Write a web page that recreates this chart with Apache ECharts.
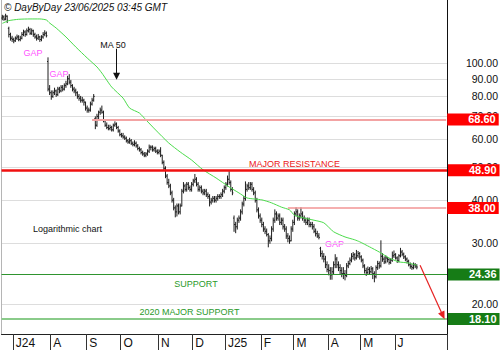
<!DOCTYPE html>
<html>
<head>
<meta charset="utf-8">
<script src="https://cdn.jsdelivr.net/npm/echarts@6/dist/echarts.min.js"></script>
<style>
  html, body { margin: 0; padding: 0; background: #fff; }
  #chart { width: 500px; height: 350px; }
</style>
</head>
<body>
<div id="chart"></div>
<script>
// Daily bars: [open, high, low, close], one row per trading day from 2024-06-20
const bars = [
  [135,137.5,133.5,136],[136,137,133,134],[134,138.5,133.5,137],[136.5,137,131,133],[126,127,119,121],
  [121,122,116.5,118],[118,119.5,115.5,117],[117,118,114.5,116],[116,119,115.5,118],[118,120.5,117,119],
  [119,120,116,117],[117,119.5,116,118],[118,122.5,117.5,121],[121,124.5,120,123],[123,124,119.5,121],
  [121,125.5,120.5,124],[124,127,123,125],[125,126,121,122],[122,125.5,121,124],[124,124.5,119.5,121],
  [121,122,118,119],[119,120.5,116.5,118],[118,121,117,119],[119,119.5,115.5,117],[117,120,116,119],
  [119,122.5,118,121],[121,124,120,122],[122,123,119,120],
  [101,103.5,83,84],[84,86,81,82],[82,83,78.5,80],[80,83,79.5,82],[82,84.5,81,83],[83,83.5,80,81],
  [81,85,80.5,84],[84,85,82,83],[83,86,82.5,85],[85,86,83,84],[84,87,83.5,86],[86,88.5,85,87],
  [87,91.5,86.5,90],[90,92.5,87,88],[88,89,85,86],[86,86.5,83,84],[84,85,82,83],[83,84,80.5,82],
  [82,82.5,79,80],[80,81,78,79],[79,80,77,78],[78,79.5,77,78],[78,78.5,75.5,77],[77,77,73,74],
  [74,75,72,73],[73,74,72,73],[73,77,72.5,76],[76,79,75.5,78],[78,81,77.5,80],
  [69,69.8,64.5,66],[66,71,65.5,70],[70,72.5,69,72],[72,74,71,73],[73,75,71.5,72],[72,72.5,67.5,68],
  [68,68.5,65.5,66],[66,67,64.5,65],[65,66,64,64.5],[64.5,66,64,65],[65,65.5,63.5,64],[64,66.5,63.5,66],
  [66,67.5,65.5,66.5],[66.5,67,64.5,65],[65,65.5,63,63.5],[63.5,64,61.5,62],[62,62.5,61,61.5],
  [61.5,62.5,60.5,61],[61,61.5,60,60.5],[60.5,61,59,59.5],[59.5,60,58.5,59],[59,60.5,58.5,59.5],
  [59.5,60,58,58.5],[58.5,59,57.5,58],[58,59.5,57.5,58.5],[58.5,59,57,57.5],[57.5,58,56,56.5],
  [56.5,57,55.5,56],[56,56.5,54.5,55],[55,55.5,54,54.5],[54.5,55,53.5,54],[54,55,53.5,54.5],
  [54.5,56,54,55.5],[55.5,57.8,55,57],[57,57.5,56,57],[57,57.5,55.5,56],[56,57,55.5,56.5],
  [56.5,57,55,55.5],[55.5,56,54.5,55],[55,56,54.5,55.5],[55.5,56.8,53.5,54],
  [54,54,51,51.5],[51.5,52,49,49.5],[49.5,50,46.5,47],[47,47.5,44.5,45],[45,46,43.5,44],
  [44,44.5,41.5,42],[42,42.5,39.5,40],[40,40.5,37.5,38],[38,38.5,35.8,37],[37,39,36,38.5],
  [38.5,39,36.5,37],[37,39,36.5,38.5],[38.5,43,38.5,42.5],[42.5,45,42,44],[44,44.5,42.5,43],
  [43,45,42.5,44.5],[44.5,45,43,43.5],[43.5,44,42.5,43],[43,45,42.5,44.5],[44.5,46,44,45.5],
  [45.5,47.5,45,46],[46,46.5,44,44.5],[44.5,45,42.5,43],[43,44,42.5,43.5],[43.5,44,42,42.5],
  [42.5,43,41.5,42],[42,43,41.5,42.5],[42.5,43,41,41.5],[41.5,42,40.5,41],[41,41.5,38.5,39.5],
  [39.5,40.5,39,40],[40,41,39.5,40.5],[40.5,41,39.5,40],[40,41,39.5,40.5],[40.5,41.5,40,41],
  [41,41.5,40.5,41],[41,42,40.5,41.5],[41.5,43,41,42.5],[42.5,44,42,43.5],[43.5,45,43,44.5],
  [44.5,47,44,46],[46,48.4,44.5,45],[45,45.5,42.5,43],[43,43.5,41.5,42],
  [35.5,36,32.5,34],[34,34.5,32.2,33.5],[33.5,35.5,33,35],[35,36,34.5,35.5],[35.5,37.5,35,37],
  [37,39.5,36.5,39],[39,41,38.5,40.5],[40.5,45.2,40,43],[43,44.5,42.5,44],[44,45,43,43.5],
  [43.5,45,43,44.5],[44.5,45,42.5,43],[43,43.5,41.5,42],[42,42.5,39.5,40],[40,40.5,37,37.5],
  [37.5,38,35.5,36],[36,36.5,34.5,35],[35,35.5,33.5,34],[34,34.5,32.5,33],[33,33.5,32,32.5],
  [32.5,33,31.5,31.8],[31.8,32,29.3,30.5],[30.5,31.5,30,31],[31,33.5,30.5,33],[33,35.5,32.5,35],
  [35,37.5,34.5,36.5],[36.5,37,35,35.5],[35.5,36.5,35,36],[36,36.5,34,34.5],[34.5,35.5,34,35],
  [35,35.5,33,33.5],[33.5,34,32.5,33],[33,33.5,31,31.5],[31.5,32,30.3,31],[31,31.5,30,30.5],
  [30.5,33.5,30.5,33],[33,35,32.5,34.5],[34.5,37,34,36.5],[36.5,38,36,37],[37,37.5,35,35.5],
  [35.5,36.5,35,36],[36,38,35.5,36.5],[36.5,37,35,35.5],[35.5,36,34.5,35],[35,35.5,34,34.5],
  [34.5,35.5,34,35],[35,35.5,33.5,34],[34,34.5,33.5,34],[34,34.5,33,33.5],[33.5,34,32.2,32.5],
  [32.5,33,31.5,32],[32,32.5,31.2,31.5],[31.5,32,30.9,31.2],
  [29,29.2,27.5,28],[28,28.5,27,27.5],[27.5,28,26.5,27],[27,27.5,25.5,26],[26,26.5,24.8,25.2],
  [25.2,26,24.3,25],[25,25.5,23.6,24.3],[24.3,25.5,23.6,24.8],[24.8,26.5,24.5,26],[26,27.8,25.5,27],
  [27,27.3,25.5,26],[26,26.5,25,25.5],[25.5,26,24.5,25],[25,25.5,24,24.5],[24.5,25.5,23.7,24.5],
  [24.5,25,23.5,24.2],[24.2,26.2,24,25.8],[25.8,26.6,25.5,26.2],[26.2,27.2,26,26.8],[26.8,28,26.5,27.5],
  [27.5,28.2,27,27.8],[27.8,28,26.8,27.2],[27.2,28.6,27,27.6],[27.6,28.4,27.3,28],[28,28.2,27,27.4],
  [27.4,27.6,26.5,26.8],[26.8,27,25.5,25.8],[25.8,26,24.6,25],[25,25.4,24.2,24.7],[24.7,25.6,24.5,25.2],
  [25.2,25.5,24.4,24.8],[24.8,25.7,24.6,25.3],[25.3,25.5,23.7,24.5],[24.5,24.8,23.2,24],[24,25.8,23.8,25.5],
  [25.5,26.6,25.2,26.2],[26.2,26.5,25.4,25.8],[25.8,30.5,25.6,27.5],[27.5,28,26.6,27],[27,27.4,26.2,26.5],
  [26.5,27.6,26.3,27.2],[27.2,27.3,26.5,26.9],[26.9,27.1,26.1,26.4],[26.4,27.1,26.2,26.8],[26.8,28.3,26.6,27.6],
  [27.6,28.5,27.3,27.8],[27.8,28,27,27.2],[27.2,27.4,26.4,26.7],[26.7,27.8,26.5,27.6],[27.6,29,27.4,28.3],
  [28.3,28.6,27.6,27.9],[27.9,28.1,27.1,27.4],[27.4,27.6,26.7,27],[27,27.2,26.3,26.6],[26.6,26.8,25.8,26],
  [26,26.3,25.4,25.7],[25.7,26,25.2,25.5],[25.5,26.3,25.3,26],[26,26.2,25.5,25.8],[25.8,26,25.3,25.6]
];

// 50-day moving average, sampled along the session axis
const maDay   = [0,4,10,17,23,27,29,33,39,45,52,58,61,67,74,78,84,88,94,102,109,116,123,131,139,145,150,159,165,171,176,179,185,191,197,203,210,216,219,225,231,237,243,249,254];
const maValue = [130.3,132.7,133.9,134.2,134.2,133.3,130.6,126.3,119,111.3,103.4,97.4,93.5,85.2,79.1,74,71.6,68.4,63.9,58.6,55.2,52.3,49,46.4,43.7,42,40.6,40.1,39.3,38.2,37.5,36.2,35.5,35,34.4,32.4,31.3,30.7,30.3,29.3,28.3,27.2,26.5,26.3,25.9];

// Key price levels
const resistance1 = 68.60;
const majorResistance = 48.90;
const resistance2 = 38.00;
const support = 24.36;
const majorSupport = 18.10;

// Price scale labels and month labels
const priceTicks = [20, 30, 40, 50, 60, 70, 80, 90, 100];
const monthStarts = ['2024-07-01','2024-08-01','2024-09-02','2024-10-01','2024-11-01','2024-12-02',
                     '2025-01-02','2025-02-03','2025-03-03','2025-04-01','2025-05-02','2025-06-02'];
const monthLabels = ['J24','A','S','O','N','D','J25','F','M','A','M','J'];
const holidays = ['2024-12-25','2024-12-26','2025-01-01','2025-04-18','2025-04-21','2025-05-01'];

// Trading sessions (weekdays minus exchange holidays), plus blank space to the right
const firstDay = '2024-06-20';
const totalSessions = 273;
const days = [];
(function () {
  const d = new Date(firstDay + 'T00:00:00Z');
  while (days.length < totalSessions) {
    const wd = d.getUTCDay();
    const s = d.toISOString().slice(0, 10);
    if (wd !== 0 && wd !== 6 && holidays.indexOf(s) < 0) days.push(s);
    d.setUTCDate(d.getUTCDate() + 1);
  }
})();

const FONT = "'Liberation Sans', Arial, sans-serif";
const lastDay = days[days.length - 1];
const ohlcData = bars.map((b, i) => [days[i], b[0], b[1], b[2], b[3]]);
const maData = maDay.map((d, i) => [days[d], maValue[i]]);

// Value box shown on the price scale at the end of a level line
function levelBox(level, bg) {
  return {
    show: true, position: 'end', distance: 1,
    formatter: () => level.toFixed(2),
    backgroundColor: bg, color: '#fff', fontWeight: 'bold',
    fontSize: 11, lineHeight: 12, fontFamily: FONT,
    padding: [0, 3, 0, 21]
  };
}

const chart = echarts.init(document.getElementById('chart'), null, { renderer: 'svg' });

chart.setOption({
  animation: false,
  backgroundColor: '#fff',
  grid: { left: 1.5, right: 53, top: 0, bottom: 16, outerBoundsMode: 'none', containLabel: false },
  xAxis: {
    type: 'category',
    data: days,
    boundaryGap: true,
    axisLine: { show: true, lineStyle: { color: '#222', width: 1 } },
    axisTick: {
      show: true, length: 16,
      interval: (i, v) => monthStarts.indexOf(v) >= 0,
      lineStyle: { color: '#333', width: 1 }
    },
    axisLabel: {
      show: true,
      interval: (i, v) => monthStarts.indexOf(v) >= 0,
      formatter: v => monthLabels[monthStarts.indexOf(v)],
      align: 'left', margin: 3, padding: [0, 0, 0, 2],
      fontSize: 12, color: '#111', fontFamily: FONT
    },
    splitLine: { show: false }
  },
  yAxis: [
    {
      type: 'log', logBase: 10, position: 'right',
      min: 16.37, max: 152.3,
      axisLine: { show: true, lineStyle: { color: '#111', width: 1 } },
      axisTick: { show: false, customValues: priceTicks },
      axisLabel: {
        customValues: priceTicks,
        formatter: v => Number(v).toFixed(2),
        align: 'right', margin: 51,
        fontSize: 10.5, color: '#111', fontFamily: FONT
      },
      splitLine: { show: true, lineStyle: { color: '#dddddd', width: 1 } }
    },
    {
      type: 'log', logBase: 10, position: 'left',
      min: 16.37, max: 152.3,
      axisLine: { show: true, lineStyle: { color: '#b5b5b5', width: 1 } },
      axisTick: { show: false },
      axisLabel: { show: false },
      splitLine: { show: false }
    }
  ],
  series: [
    {
      type: 'custom',
      name: 'OHLC',
      xAxisIndex: 0, yAxisIndex: 0,
      data: ohlcData,
      encode: { x: 0, y: [1, 2, 3, 4] },
      clip: true,
      z: 2,
      renderItem: function (params, api) {
        const x = api.value(0);
        const o = api.coord([x, api.value(1)]);
        const h = api.coord([x, api.value(2)]);
        const l = api.coord([x, api.value(3)]);
        const c = api.coord([x, api.value(4)]);
        const w = api.size([1, 1])[0] * 0.6;
        const st = { stroke: '#1e1e1e', lineWidth: 1 };
        return {
          type: 'group',
          children: [
            { type: 'line', shape: { x1: h[0], y1: h[1] - 0.5, x2: l[0], y2: l[1] + 0.5 }, style: st },
            { type: 'line', shape: { x1: o[0] - w, y1: o[1], x2: o[0], y2: o[1] }, style: st },
            { type: 'line', shape: { x1: c[0], y1: c[1], x2: c[0] + w, y2: c[1] }, style: st }
          ]
        };
      },
      markLine: {
        silent: true, animation: false, symbol: 'none',
        data: [
          [
            { coord: [days[55], resistance1], lineStyle: { color: '#f3a3a3', width: 2, type: 'solid' }, label: levelBox(resistance1, '#ff0000') },
            { coord: [lastDay, resistance1] }
          ],
          { yAxis: majorResistance, lineStyle: { color: '#f01010', width: 2.5, type: 'solid' }, label: levelBox(majorResistance, '#ff0000') },
          [
            { coord: [days[175], resistance2], lineStyle: { color: '#f29494', width: 1.6, type: 'solid' }, label: levelBox(resistance2, '#ff0000') },
            { coord: [lastDay, resistance2] }
          ],
          { yAxis: support, lineStyle: { color: '#2f942f', width: 1.2, type: 'solid' }, label: levelBox(support, '#167c16') },
          { yAxis: majorSupport, lineStyle: { color: '#8acb8a', width: 2, type: 'solid' }, label: levelBox(majorSupport, '#167c16') },
          [
            { coord: [days[70], 110], symbol: 'none', lineStyle: { color: '#111', width: 1, type: 'solid' }, label: { show: false } },
            { coord: [days[70], 91.5], symbol: 'triangle', symbolSize: [7, 7] }
          ],
          [
            { coord: [days[256], 25.9], symbol: 'none', lineStyle: { color: '#e62222', width: 1.2, type: 'solid' }, label: { show: false } },
            { coord: [days[270], 18.5], symbol: 'triangle', symbolSize: [7, 8] }
          ]
        ]
      }
    },
    {
      type: 'line',
      name: 'MA 50',
      xAxisIndex: 0, yAxisIndex: 0,
      data: maData,
      showSymbol: false,
      symbol: 'none',
      smooth: 0.2,
      lineStyle: { color: '#4cdc4c', width: 1 },
      z: 3,
      silent: true
    }
  ],
  graphic: [
    { type: 'text', x: 4, y: 7, style: { text: '\u00a9 DayByDay 23/06/2025 03:45 GMT', font: 'italic 10px ' + FONT, fill: '#111', verticalAlign: 'middle' } },
    { type: 'text', x: 113, y: 45, style: { text: 'MA 50', font: '9px ' + FONT, fill: '#111', align: 'center', verticalAlign: 'middle' } },
    { type: 'text', x: 33, y: 52.5, style: { text: 'GAP', font: '9px ' + FONT, fill: '#ff55ff', align: 'center', verticalAlign: 'middle' } },
    { type: 'text', x: 59, y: 73.5, style: { text: 'GAP', font: '9px ' + FONT, fill: '#ff55ff', align: 'center', verticalAlign: 'middle' } },
    { type: 'text', x: 334.5, y: 243.7, style: { text: 'GAP', font: '9px ' + FONT, fill: '#ff55ff', align: 'center', verticalAlign: 'middle' } },
    { type: 'text', x: 294.5, y: 163.5, style: { text: 'MAJOR RESISTANCE', font: '9px ' + FONT, fill: '#ea2020', align: 'center', verticalAlign: 'middle' } },
    { type: 'text', x: 67.5, y: 229, style: { text: 'Logarithmic chart', font: '9px ' + FONT, fill: '#111', align: 'center', verticalAlign: 'middle' } },
    { type: 'text', x: 196, y: 283.5, style: { text: 'SUPPORT', font: '9px ' + FONT, fill: '#2a9a2a', align: 'center', verticalAlign: 'middle' } },
    { type: 'text', x: 189.5, y: 311.7, style: { text: '2020 MAJOR SUPPORT', font: '9px ' + FONT, fill: '#2a9a2a', align: 'center', verticalAlign: 'middle' } }
  ]
});
</script>
</body>
</html>
